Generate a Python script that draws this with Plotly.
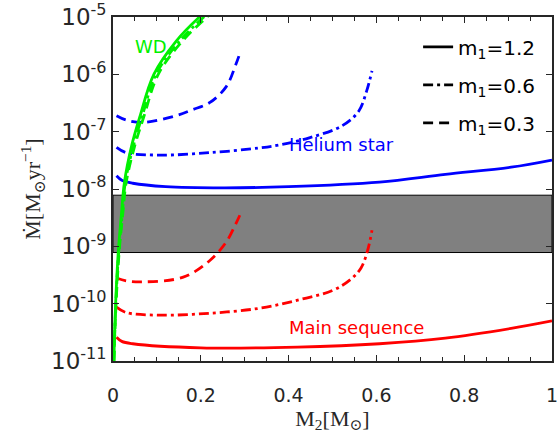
import plotly.graph_objects as go

# ---------------- data ----------------
# Helium-star donors (blue)
he_12_x = [0.008, 0.02, 0.045, 0.12, 0.25, 0.4, 0.607, 0.757, 0.907, 1.0]
he_12_y = [1.7e-8, 1.42e-8, 1.26e-8, 1.1e-8, 1.05e-8, 1.1e-8, 1.32e-8, 1.8e-8, 2.4e-8, 3.2e-8]
he_06_x = [0.008, 0.03, 0.107, 0.22, 0.333, 0.38, 0.447, 0.522, 0.56, 0.578, 0.59]
he_06_y = [5.3e-8, 4.3e-8, 3.9e-8, 4.3e-8, 5.2e-8, 5.9e-8, 7.8e-8, 1.27e-7, 2.3e-7, 5.2e-7, 1.15e-6]
he_03_x = [0.008, 0.03, 0.069, 0.144, 0.18, 0.22, 0.258, 0.28, 0.288]
he_03_y = [1.9e-7, 1.6e-7, 1.45e-7, 1.9e-7, 2.4e-7, 3.2e-7, 6.1e-7, 1.5e-6, 2.2e-6]

# Main-sequence donors (red)
ms_12_x = [0.008, 0.02, 0.045, 0.2, 0.42, 0.607, 0.757, 0.907, 1.0]
ms_12_y = [2.6e-11, 2.2e-11, 2.0e-11, 1.7e-11, 1.75e-11, 2.0e-11, 2.5e-11, 3.7e-11, 5.0e-11]
ms_06_x = [0.008, 0.03, 0.107, 0.22, 0.333, 0.424, 0.5, 0.54, 0.565, 0.58, 0.59]
ms_06_y = [8.7e-11, 7.0e-11, 6.3e-11, 6.8e-11, 8.3e-11, 1.17e-10, 1.7e-10, 2.6e-10, 4.2e-10, 8.5e-10, 1.9e-9]
ms_03_x = [0.008, 0.03, 0.069, 0.16, 0.22, 0.258, 0.28, 0.289]
ms_03_y = [2.8e-10, 2.5e-10, 2.4e-10, 2.9e-10, 5.6e-10, 1.19e-9, 2.5e-9, 3.5e-9]

# White-dwarf donors (green)
wd_y = [1e-11, 1e-10, 8e-10, 3.5e-9, 1.3e-8, 5.5e-8, 1.8e-7, 1.0e-6, 3.8e-6, 1e-5, 1.3e-5]
wd_12_x = [0.002, 0.006, 0.012, 0.019, 0.026, 0.042, 0.061, 0.093, 0.144, 0.197, 0.215]
wd_06_x = [0.002, 0.0065, 0.013, 0.021, 0.028, 0.046, 0.066, 0.098, 0.152, 0.207, 0.225]
wd_03_x = [0.002, 0.007, 0.014, 0.022, 0.030, 0.049, 0.070, 0.103, 0.158, 0.214, 0.23]

# Shaded band of accretion rates
band_x = [0, 1]
band_y = [7.8e-10, 7.8e-9]

legend_labels = ["m<sub>1</sub>=1.2", "m<sub>1</sub>=0.6", "m<sub>1</sub>=0.3"]
x_ticks = [0, 0.2, 0.4, 0.6, 0.8, 1]
x_ticktext = ["0", "0.2", "0.4", "0.6", "0.8", "1"]
y_ticks = [1e-11, 1e-10, 1e-9, 1e-8, 1e-7, 1e-6, 1e-5]
y_ticktext = ["10<sup>-11</sup>", "10<sup>-10</sup>", "10<sup>-9</sup>", "10<sup>-8</sup>",
              "10<sup>-7</sup>", "10<sup>-6</sup>", "10<sup>-5</sup>"]

# ---------------- styles ----------------
BLUE, RED, GREEN = "#0000FF", "#FF0000", "#00F000"
DASH = "10px,6px"
DASHDOT = "10px,4px,3px,4px"
LW = 2.8
SANS = "DejaVu Sans, Verdana, sans-serif"
SERIF = "Liberation Serif, DejaVu Serif, serif"
AXC = "#262626"

fig = go.Figure()

# grey band
fig.add_trace(go.Scatter(
    x=[band_x[0], band_x[1], band_x[1], band_x[0], band_x[0]],
    y=[band_y[0], band_y[0], band_y[1], band_y[1], band_y[0]],
    mode="lines", fill="toself", fillcolor="#808080",
    line=dict(color="black", width=1), showlegend=False, hoverinfo="skip"))

def curve(x, y, color, dash):
    fig.add_trace(go.Scatter(x=x, y=y, mode="lines", line_shape="spline",
                             line=dict(color=color, width=LW, dash=dash),
                             showlegend=False))

curve(he_12_x, he_12_y, BLUE, "solid")
curve(he_06_x, he_06_y, BLUE, DASHDOT)
curve(he_03_x, he_03_y, BLUE, DASH)
curve(ms_12_x, ms_12_y, RED, "solid")
curve(ms_06_x, ms_06_y, RED, DASHDOT)
curve(ms_03_x, ms_03_y, RED, DASH)
curve(wd_03_x, wd_y, GREEN, DASH)
curve(wd_06_x, wd_y, GREEN, DASHDOT)
curve(wd_12_x, wd_y, GREEN, "solid")

# legend entries
for lab, dsh, grp in zip(legend_labels, ["solid", DASHDOT, DASH], ["a", "b", "c"]):
    fig.add_trace(go.Scatter(x=[None], y=[None], mode="lines", name=lab,
                             legendgroup=grp,
                             line=dict(color="black", width=LW, dash=dsh)))

# text labels
fig.add_annotation(x=0.086, y=-5.51, text="WD", showarrow=False,
                   font=dict(family=SANS, size=18, color=GREEN))
fig.add_annotation(x=0.52, y=-7.22, text="Helium star", showarrow=False,
                   font=dict(family=SANS, size=18, color=BLUE))
fig.add_annotation(x=0.554, y=-10.42, text="Main sequence", showarrow=False,
                   font=dict(family=SANS, size=18, color=RED))

fig.update_xaxes(
    range=[0, 1], tickmode="array", tickvals=x_ticks, ticktext=x_ticktext,
    ticks="inside", ticklen=6, tickwidth=1.3, tickcolor=AXC,
    minor=dict(dtick=0.05, tick0=0, ticks="inside", ticklen=4, tickwidth=1.2, tickcolor=AXC),
    showline=True, mirror="ticks", linecolor=AXC, linewidth=1.6,
    showgrid=False, zeroline=False, ticklabelstandoff=16, ticklabeloverflow="allow",
    automargin=False,
    tickfont=dict(family=SANS, size=19, color=AXC),
    title=dict(text="M<sub>2</sub>[M<sub>⊙</sub>]", font=dict(family=SERIF, size=22, color=AXC),
               standoff=2))
fig.update_yaxes(
    type="log", range=[-11, -5], tickmode="array", tickvals=y_ticks, ticktext=y_ticktext,
    ticks="inside", ticklen=6, tickwidth=1.3, tickcolor=AXC,
    showline=True, mirror="ticks", linecolor=AXC, linewidth=1.6,
    showgrid=False, zeroline=False, ticklabeloverflow="allow",
    automargin=False,
    tickfont=dict(family=SANS, size=23, color=AXC),
    title=dict(text="Ṁ[M<sub>⊙</sub>yr<sup>−1</sup>]", font=dict(family=SERIF, size=22, color=AXC),
               standoff=4))

fig.update_layout(
    width=558, height=436,
    margin=dict(l=113, r=6, t=17, b=75),
    paper_bgcolor="white", plot_bgcolor="white",
    legend=dict(x=0.695, y=0.97, xanchor="left", yanchor="top",
                bgcolor="rgba(0,0,0,0)", borderwidth=0, tracegroupgap=9,
                font=dict(family=SANS, size=20, color="black")),
)

fig.write_html("out.html")
